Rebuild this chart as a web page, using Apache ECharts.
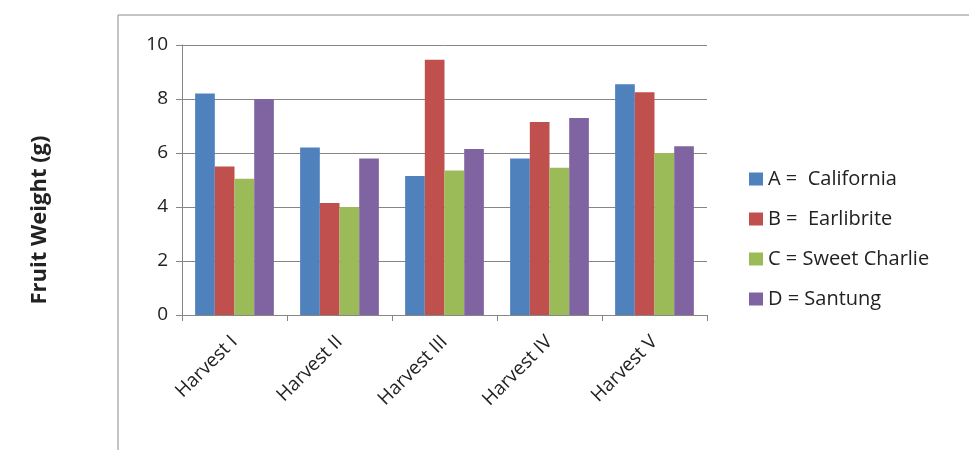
<!DOCTYPE html>
<html>
<head>
<meta charset="utf-8">
<script src="https://cdn.jsdelivr.net/npm/echarts@6/dist/echarts.min.js"></script>
<style>
    html, body { margin: 0; padding: 0; background: #fff; }
    #chart { width: 969px; height: 450px; }
</style>
</head>
<body>
<div id="chart"></div>
<script>
var harvests = ['Harvest I', 'Harvest II', 'Harvest III', 'Harvest IV', 'Harvest V'];
var california = [8.2, 6.2, 5.15, 5.8, 8.55];
var earlibrite = [5.5, 4.15, 9.45, 7.15, 8.25];
var sweetCharlie = [5.05, 4.0, 5.35, 5.45, 6.0];
var santung = [8.0, 5.8, 6.15, 7.3, 6.25];
var seriesNames = ['A =  California', 'B =  Earlibrite', 'C = Sweet Charlie', 'D = Santung'];
var yTicks = [0, 2, 4, 6, 8, 10];

var colors = ['#4F81BD', '#C0504D', '#9BBB59', '#8064A2'];
var font = '"Open Sans", Lato, sans-serif';

var chart = echarts.init(document.getElementById('chart'));

function bar(name, data) {
    return {
        name: name,
        type: 'bar',
        data: data,
        barGap: '0%',
        barCategoryGap: '25%'
    };
}

chart.setOption({
    animation: false,
    backgroundColor: '#fff',
    color: colors,
    textStyle: { fontFamily: font },
    grid: { left: 182, right: 262, top: 45, bottom: 135 },
    graphic: [
        {
            type: 'rect',
            silent: true,
            shape: { x: 118, y: 15, width: 1000, height: 1000 },
            style: { fill: 'none', stroke: '#8c8c8c', lineWidth: 1 }
        },
        {
            type: 'text',
            x: 40,
            y: 220,
            rotation: Math.PI / 2,
            style: {
                text: 'Fruit Weight (g)',
                font: 'bold 22px ' + font,
                fill: '#222',
                align: 'center',
                verticalAlign: 'middle'
            }
        }
    ],
    legend: {
        orient: 'vertical',
        left: 744,
        top: 164,
        icon: 'rect',
        itemWidth: 14,
        itemHeight: 13,
        itemGap: 20,
        data: seriesNames,
        textStyle: { fontSize: 20, color: '#222', fontFamily: font }
    },
    xAxis: {
        type: 'category',
        data: harvests,
        axisLine: { lineStyle: { color: '#868686' } },
        axisTick: { show: true, length: 6, lineStyle: { color: '#868686' } },
        axisLabel: { rotate: 45, fontSize: 19, color: '#222', margin: 24 }
    },
    yAxis: {
        type: 'value',
        min: yTicks[0],
        max: yTicks[yTicks.length - 1],
        interval: 2,
        axisLine: { show: true, lineStyle: { color: '#868686' } },
        axisTick: { show: true, length: 6, lineStyle: { color: '#868686' } },
        splitLine: { lineStyle: { color: '#868686' } },
        axisLabel: { fontSize: 19, color: '#222', margin: 14 }
    },
    series: [
        bar(seriesNames[0], california),
        bar(seriesNames[1], earlibrite),
        bar(seriesNames[2], sweetCharlie),
        bar(seriesNames[3], santung)
    ]
});
</script>
</body>
</html>
